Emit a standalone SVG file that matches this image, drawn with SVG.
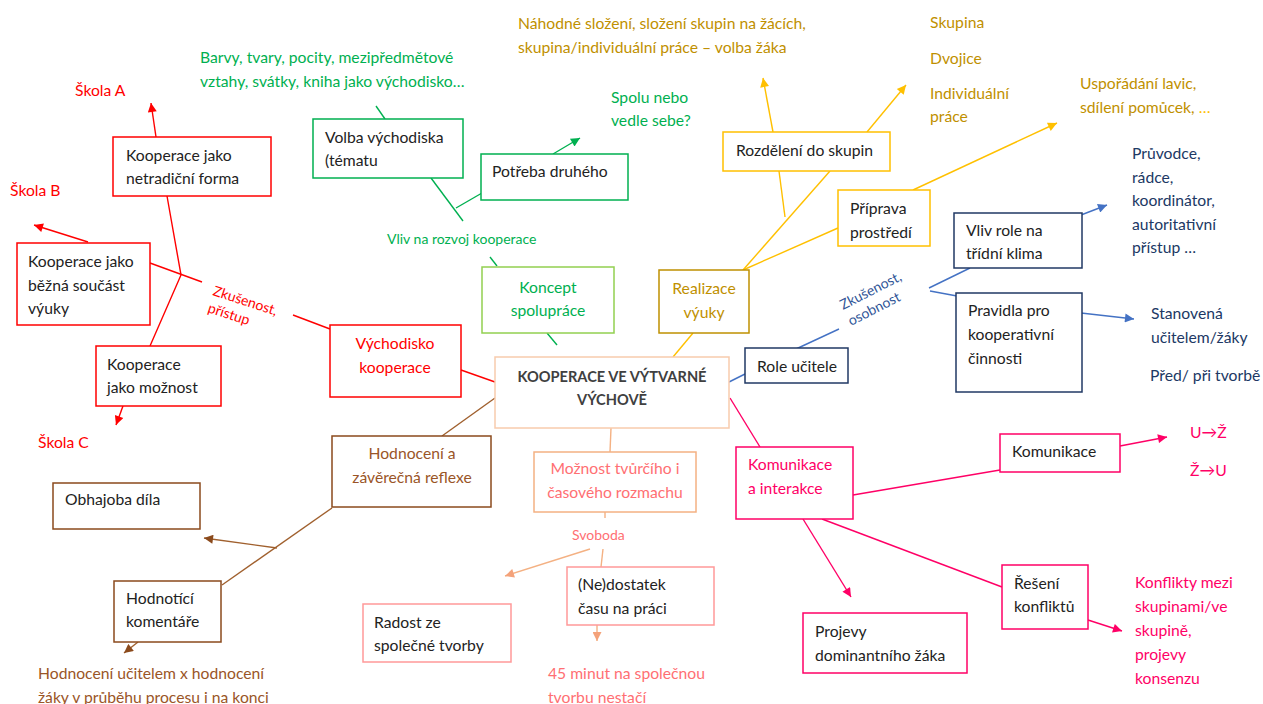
<svg xmlns="http://www.w3.org/2000/svg" width="1263" height="704" viewBox="0 0 1263 704">
<style>
text{font-family:Lato,"Liberation Sans",sans-serif;font-size:15.7px;fill:#222}
.b{fill:#fff;stroke-width:1.5}
.c{fill:none;stroke-width:1.4}
.red{fill:#ff0000}.grn{fill:#00b050}.gold{fill:#bf9000}.navy{fill:#203864}.pink{fill:#ff0066}.sal{fill:#ff6f73}.brn{fill:#9a5527}
.sm{font-size:14px}
.mid{text-anchor:middle}
.ctr{font-weight:bold;font-size:14.6px;fill:#404040}
</style>
<defs>
<marker id="aR" viewBox="0 0 10 10" refX="10" refY="5" markerWidth="11" markerHeight="9" markerUnits="userSpaceOnUse" orient="auto"><path d="M0,0L10,5L0,10z" fill="#ff0000"/></marker>
<marker id="aG" viewBox="0 0 10 10" refX="10" refY="5" markerWidth="11" markerHeight="9" markerUnits="userSpaceOnUse" orient="auto"><path d="M0,0L10,5L0,10z" fill="#00b050"/></marker>
<marker id="aY" viewBox="0 0 10 10" refX="10" refY="5" markerWidth="11" markerHeight="9" markerUnits="userSpaceOnUse" orient="auto"><path d="M0,0L10,5L0,10z" fill="#ffc000"/></marker>
<marker id="aB" viewBox="0 0 10 10" refX="10" refY="5" markerWidth="11" markerHeight="9" markerUnits="userSpaceOnUse" orient="auto"><path d="M0,0L10,5L0,10z" fill="#4472c4"/></marker>
<marker id="aP" viewBox="0 0 10 10" refX="10" refY="5" markerWidth="11" markerHeight="9" markerUnits="userSpaceOnUse" orient="auto"><path d="M0,0L10,5L0,10z" fill="#ff0066"/></marker>
<marker id="aS" viewBox="0 0 10 10" refX="10" refY="5" markerWidth="11" markerHeight="9" markerUnits="userSpaceOnUse" orient="auto"><path d="M0,0L10,5L0,10z" fill="#f4a27a"/></marker>
<marker id="aN" viewBox="0 0 10 10" refX="10" refY="5" markerWidth="11" markerHeight="9" markerUnits="userSpaceOnUse" orient="auto"><path d="M0,0L10,5L0,10z" fill="#8b4a1c"/></marker>
</defs>
<rect width="1263" height="704" fill="#fff"/>

<g id="connectors">
  <g stroke="#ff0000" class="c">
    <line x1="156" y1="137" x2="151" y2="103" marker-end="url(#aR)"/>
    <line x1="88" y1="242" x2="34" y2="225" marker-end="url(#aR)"/>
    <polyline points="167,196 181,275 150,346"/>
    <line x1="150" y1="263" x2="202" y2="282"/>
    <line x1="293" y1="315" x2="330" y2="329"/>
    <line x1="123" y1="406" x2="116" y2="425" marker-end="url(#aR)"/>
    <line x1="461" y1="370" x2="495" y2="382"/>
  </g>
  <g stroke="#00b050" class="c">
    <line x1="376" y1="106" x2="385" y2="119"/>
    <line x1="431" y1="178" x2="463" y2="221"/>
    <line x1="456" y1="208" x2="482" y2="193"/>
    <line x1="553" y1="154" x2="580" y2="138" marker-end="url(#aG)"/>
    <line x1="490" y1="257" x2="497" y2="266"/>
    <line x1="547" y1="333" x2="557" y2="345"/>
  </g>
  <g stroke="#ffc000" class="c">
    <line x1="673" y1="357" x2="693" y2="333"/>
    <line x1="743" y1="270" x2="830" y2="171"/>
    <line x1="779" y1="171" x2="785" y2="217"/>
    <line x1="743" y1="270" x2="838" y2="228"/>
    <line x1="773" y1="132" x2="763" y2="78" marker-end="url(#aY)"/>
    <line x1="867" y1="132" x2="906" y2="85" marker-end="url(#aY)"/>
    <line x1="913" y1="190" x2="1057" y2="123" marker-end="url(#aY)"/>
  </g>
  <g stroke="#4472c4" class="c">
    <line x1="729" y1="382" x2="745" y2="374"/>
    <line x1="796" y1="349" x2="839" y2="329"/>
    <line x1="929" y1="288" x2="970" y2="268"/>
    <line x1="930" y1="291" x2="957" y2="296"/>
    <line x1="1081" y1="215" x2="1107" y2="205" marker-end="url(#aB)"/>
    <line x1="1081" y1="313" x2="1134" y2="319" marker-end="url(#aB)"/>
  </g>
  <g stroke="#ff0066" class="c">
    <line x1="730" y1="398" x2="760" y2="447"/>
    <line x1="853" y1="495" x2="1000" y2="470"/>
    <line x1="1120" y1="446" x2="1167" y2="437" marker-end="url(#aP)"/>
    <line x1="822" y1="519" x2="1002" y2="587"/>
    <line x1="1088" y1="620" x2="1122" y2="631" marker-end="url(#aP)"/>
    <line x1="803" y1="519" x2="851" y2="597" marker-end="url(#aP)"/>
  </g>
  <g stroke="#f4b183" class="c">
    <line x1="611" y1="428" x2="610" y2="452"/>
    <line x1="605" y1="512" x2="605" y2="518"/>
    <line x1="603" y1="549" x2="601" y2="567"/>
    <line x1="590" y1="549" x2="505" y2="576" marker-end="url(#aS)"/>
    <line x1="597" y1="625" x2="597" y2="641" marker-end="url(#aS)"/>
  </g>
  <g stroke="#a0602e" class="c">
    <line x1="495" y1="398" x2="442" y2="436"/>
    <line x1="332" y1="508" x2="222" y2="585"/>
    <line x1="277" y1="548" x2="204" y2="538" marker-end="url(#aN)"/>
    <line x1="138" y1="642" x2="124" y2="653" marker-end="url(#aN)"/>
  </g>
</g>

<g id="skolaA"><text x="75" y="96" class="red">Škola A</text></g>
<g id="skolaB"><text x="10" y="196" class="red">Škola B</text></g>
<g id="skolaC"><text x="38" y="448" class="red">Škola C</text></g>
<g id="k1"><rect x="113" y="137" width="158" height="59" class="b" stroke="#ff0000"/><text x="126" y="161">Kooperace jako</text><text x="126" y="184">netradiční forma</text></g>
<g id="k2"><rect x="17" y="243" width="133" height="82" class="b" stroke="#ff0000"/><text x="28" y="267">Kooperace jako</text><text x="28" y="291">běžná součást</text><text x="28" y="314">výuky</text></g>
<g id="k3"><rect x="96" y="346" width="125" height="60" class="b" stroke="#ff0000"/><text x="107" y="370">Kooperace</text><text x="107" y="393">jako možnost</text></g>
<g id="zkusenost1"><text x="212" y="295" class="red sm" transform="rotate(18 212 295)">Zkušenost,</text><text x="207" y="312" class="red sm" transform="rotate(18 207 312)">přístup</text></g>
<g id="vychodisko"><rect x="330" y="325" width="131" height="72" class="b" stroke="#ff0000"/><text x="395" y="349" class="red mid">Východisko</text><text x="395" y="373" class="red mid">kooperace</text></g>

<g id="center"><rect x="495" y="357" width="234" height="71" class="b" stroke="#f8cbad"/><text x="612" y="382" class="mid ctr">KOOPERACE VE VÝTVARNÉ</text><text x="612" y="405" class="mid ctr">VÝCHOVĚ</text></g>

<g id="barvy"><text x="200" y="63" class="grn">Barvy, tvary, pocity, mezipředmětové</text><text x="200" y="87" class="grn">vztahy, svátky, kniha jako východisko…</text></g>
<g id="volba"><rect x="313" y="119" width="150" height="59" class="b" stroke="#00b050"/><text x="325" y="143">Volba východiska</text><text x="325" y="166">(tématu</text></g>
<g id="potreba"><rect x="481" y="154" width="147" height="46" class="b" stroke="#00b050"/><text x="492" y="177">Potřeba druhého</text></g>
<g id="spolu"><text x="611" y="103" class="grn">Spolu nebo</text><text x="611" y="126" class="grn">vedle sebe?</text></g>
<g id="vliv"><text x="387" y="244" class="grn sm">Vliv na rozvoj kooperace</text></g>
<g id="koncept"><rect x="482" y="267" width="132" height="66" class="b" stroke="#92d050"/><text x="548" y="293" class="grn mid">Koncept</text><text x="548" y="316" class="grn mid">spolupráce</text></g>

<g id="nahodne"><text x="518" y="29" class="gold">Náhodné složení, složení skupin na žácích,</text><text x="518" y="53" class="gold">skupina/individuální práce – volba žáka</text></g>
<g id="skupina"><text x="930" y="28" class="gold">Skupina</text><text x="930" y="64" class="gold">Dvojice</text><text x="930" y="99" class="gold">Individuální</text><text x="930" y="122" class="gold">práce</text></g>
<g id="rozdeleni"><rect x="723" y="132" width="167" height="39" class="b" stroke="#ffc000"/><text x="736" y="156">Rozdělení do skupin</text></g>
<g id="priprava"><rect x="838" y="190" width="92" height="56" class="b" stroke="#ffc000"/><text x="850" y="214">Příprava</text><text x="850" y="238">prostředí</text></g>
<g id="usporadani"><text x="1080" y="89" class="gold">Uspořádání lavic,</text><text x="1080" y="113" class="gold">sdílení pomůcek, <tspan style="fill:#ffc000">…</tspan></text></g>
<g id="realizace"><rect x="659" y="270" width="90" height="63" class="b" stroke="#bf9000"/><text x="704" y="294" class="gold mid">Realizace</text><text x="704" y="318" class="gold mid">výuky</text></g>

<g id="role"><rect x="745" y="348" width="103" height="35" class="b" stroke="#203864"/><text x="757" y="372">Role učitele</text></g>
<g id="zkusenost2"><text x="843" y="310" class="sm" style="fill:#2f5597" transform="rotate(-27 843 310)">Zkušenost,</text><text x="851" y="326" class="sm" style="fill:#2f5597" transform="rotate(-27 851 326)">osobnost</text></g>
<g id="vlivrole"><rect x="954" y="213" width="128" height="55" class="b" stroke="#203864"/><text x="966" y="236">Vliv role na</text><text x="966" y="259">třídní klima</text></g>
<g id="pravidla"><rect x="956" y="293" width="126" height="99" class="b" stroke="#203864"/><text x="968" y="316">Pravidla pro</text><text x="968" y="340">kooperativní</text><text x="968" y="364">činnosti</text></g>
<g id="pruvodce"><text x="1132" y="159" class="navy">Průvodce,</text><text x="1132" y="183" class="navy">rádce,</text><text x="1132" y="206" class="navy">koordinátor,</text><text x="1132" y="230" class="navy">autoritativní</text><text x="1132" y="253" class="navy">přístup …</text></g>
<g id="stanovena"><text x="1151" y="319" class="navy">Stanovená</text><text x="1151" y="343" class="navy">učitelem/žáky</text><text x="1150" y="381" class="navy">Před/ při tvorbě</text></g>

<g id="komint"><rect x="736" y="447" width="117" height="72" class="b" stroke="#ff0066"/><text x="748" y="470" class="pink">Komunikace</text><text x="748" y="494" class="pink">a interakce</text></g>
<g id="komunikace"><rect x="1000" y="434" width="120" height="38" class="b" stroke="#ff0066"/><text x="1012" y="457">Komunikace</text></g>
<g id="uz"><text x="1190" y="438" class="pink">U→Ž</text><text x="1190" y="476" class="pink">Ž→U</text></g>
<g id="reseni"><rect x="1002" y="565" width="86" height="64" class="b" stroke="#ff0066"/><text x="1014" y="589">Řešení</text><text x="1014" y="612">konfliktů</text></g>
<g id="konflikty"><text x="1135" y="588" class="pink">Konflikty mezi</text><text x="1135" y="612" class="pink">skupinami/ve</text><text x="1135" y="636" class="pink">skupině,</text><text x="1135" y="660" class="pink">projevy</text><text x="1135" y="684" class="pink">konsenzu</text></g>
<g id="projevy"><rect x="803" y="613" width="164" height="60" class="b" stroke="#ff0066"/><text x="815" y="637">Projevy</text><text x="815" y="661">dominantního žáka</text></g>

<g id="moznost"><rect x="534" y="452" width="162" height="60" class="b" stroke="#f4b183"/><text x="615" y="474" class="sal mid">Možnost tvůrčího i</text><text x="615" y="498" class="sal mid">časového rozmachu</text></g>
<g id="svoboda"><text x="572" y="540" class="sal sm">Svoboda</text></g>
<g id="nedostatek"><rect x="567" y="567" width="147" height="58" class="b" stroke="#ff9999"/><text x="578" y="590">(Ne)dostatek</text><text x="578" y="614">času na práci</text></g>
<g id="radost"><rect x="363" y="604" width="148" height="58" class="b" stroke="#ff9999"/><text x="374" y="628">Radost ze</text><text x="374" y="651">společné tvorby</text></g>
<g id="minut"><text x="548" y="679" class="sal">45 minut na společnou</text><text x="548" y="703" class="sal">tvorbu nestačí</text></g>

<g id="hodnoceni"><rect x="332" y="436" width="159" height="71" class="b" stroke="#8b4a1c"/><text x="412" y="459" class="brn mid">Hodnocení a</text><text x="412" y="483" class="brn mid">závěrečná reflexe</text></g>
<g id="obhajoba"><rect x="53" y="483" width="147" height="46" class="b" stroke="#8b4a1c"/><text x="65" y="505">Obhajoba díla</text></g>
<g id="komentare"><rect x="114" y="581" width="107" height="61" class="b" stroke="#8b4a1c"/><text x="126" y="604">Hodnotící</text><text x="126" y="627">komentáře</text></g>
<g id="ucitelem"><text x="38" y="679" class="brn">Hodnocení učitelem x hodnocení</text><text x="38" y="703" class="brn">žáky v průběhu procesu i na konci</text></g>
</svg>
